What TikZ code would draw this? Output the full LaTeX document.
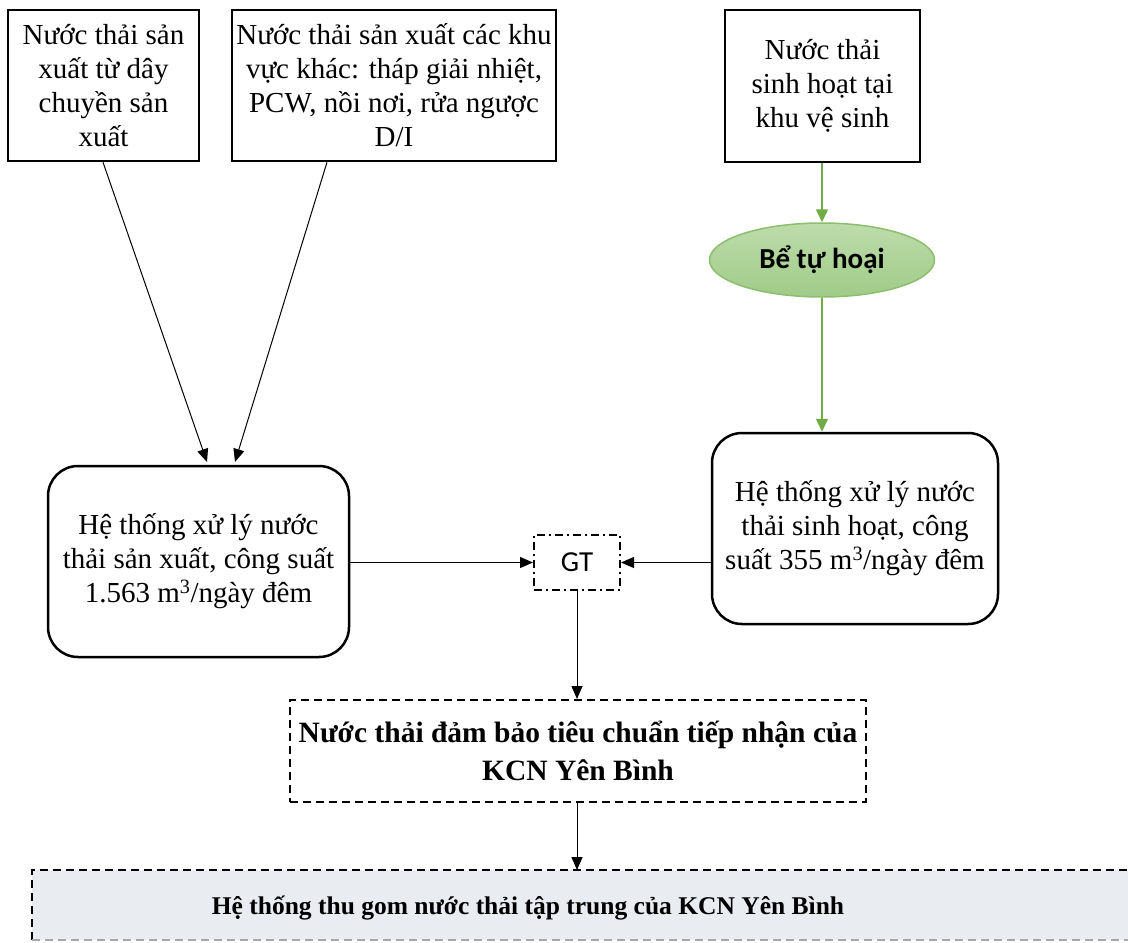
\documentclass[tikz,border=0pt]{standalone}
\usepackage{fontspec}
\setmainfont{Liberation Serif}
\newfontfamily\calfont{Carlito}
\usetikzlibrary{arrows.meta,shapes.geometric}
\definecolor{leaf}{HTML}{70AD47}
\definecolor{leafedge}{HTML}{8CBE6E}
\definecolor{leaftop}{HTML}{BDDCAB}
\definecolor{leafbot}{HTML}{A0CB88}
\definecolor{sinkfill}{HTML}{E9ECF1}
\begin{document}
\begin{tikzpicture}[x=1pt,y=-1pt,
  txt/.style={font=\fontsize{29}{34}\selectfont, align=center, inner sep=0pt},
  srcbox/.style={txt, draw, line width=2.5pt, rectangle},
  plant/.style={txt, draw, line width=2.5pt, rounded corners=30pt},
  tank/.style={ellipse, draw=leafedge, line width=1.5pt, top color=leaftop, bottom color=leafbot,
    font=\calfont\bfseries\fontsize{29}{34}\selectfont, inner sep=0pt},
  junction/.style={draw, line width=2pt, dash pattern=on 8pt off 4pt on 2pt off 4pt,
    font=\calfont\fontsize{29}{34}\selectfont, inner sep=0pt},
  outlet/.style={txt, draw, line width=2pt, dash pattern=on 8pt off 5pt, font=\bfseries\fontsize{29.5}{38}\selectfont},
  flow/.style={line width=1pt, -{Triangle[length=13pt,width=11pt]}},
  gflow/.style={flow, draw=leaf, line width=1.5pt, -{Triangle[length=13pt,width=12pt,fill=leaf]}}
]
\useasboundingbox (0,0) rectangle (1128,943);
\clip (0,0) rectangle (1128,943);
\fill[white] (0,0) rectangle (1128,943);

% sources
\node[srcbox, minimum width=191pt, minimum height=151pt] (srcA) at (103.5,85.5)
  {Nước thải sản\\xuất từ dây\\chuyền sản\\xuất};
\node[srcbox, minimum width=324pt, minimum height=151pt] (srcB) at (394,85.5)
  {Nước thải sản xuất các khu\\vực khác: tháp giải nhiệt,\\PCW, nồi nơi, rửa ngược\\D/I};
\node[srcbox, minimum width=195pt, minimum height=152pt] (srcC) at (822.5,86)
  {Nước thải\\sinh hoạt tại\\khu vệ sinh};

% septic tank
\node[tank, minimum width=225pt, minimum height=74pt] (septic) at (822,260) {Bể tự hoại};

% treatment plants
\node[plant, minimum width=301pt, minimum height=191pt] (plantL) at (198.5,561.5)
  {Hệ thống xử lý nước\\thải sản xuất, công suất\\1.563 m\textsuperscript{3}/ngày đêm};
\node[plant, minimum width=286pt, minimum height=191pt] (plantR) at (855,528.5)
  {Hệ thống xử lý nước\\thải sinh hoạt, công\\suất 355 m\textsuperscript{3}/ngày đêm};

% monitoring point
\node[junction, minimum width=86pt, minimum height=55pt] (gt) at (577,562.5) {GT};

% discharge standard
\node[outlet, minimum width=576pt, minimum height=102pt] (std) at (578,751)
  {Nước thải đảm bảo tiêu chuẩn tiếp nhận của\\KCN Yên Bình};

% central collection system
\fill[sinkfill] (32,870) rectangle (1140,940);
\draw[line width=2pt, dash pattern=on 8pt off 5pt] (32,940) -- (32,870) -- (1140,870);
\draw[line width=2pt, gray!70, dash pattern=on 8pt off 5pt] (32,940) -- (1140,940);
\node[txt, font=\bfseries\fontsize{25.5}{30}\selectfont] (sink) at (528,908)
  {Hệ thống thu gom nước thải tập trung của KCN Yên Bình};
\coordinate (sinktop) at (577,870);

% connectors
\coordinate (aEnd) at (207,462);
\coordinate (bEnd) at (235,462);
\draw[flow] (srcA.south -| 103,0) -- (aEnd);
\draw[flow] (srcB.south -| 327,0) -- (bEnd);
\draw[gflow] (srcC.south -| septic.north) -- (septic.north);
\draw[gflow] (septic.south) -- (septic.south |- plantR.north);
\draw[flow] (plantL.east |- gt.west) -- (gt.west);
\draw[flow] (plantR.west |- gt.east) -- (gt.east);
\draw[flow] (gt.south) -- (gt.south |- std.north);
\draw[flow] (std.south -| sinktop) -- (sinktop);
\end{tikzpicture}
\end{document}
